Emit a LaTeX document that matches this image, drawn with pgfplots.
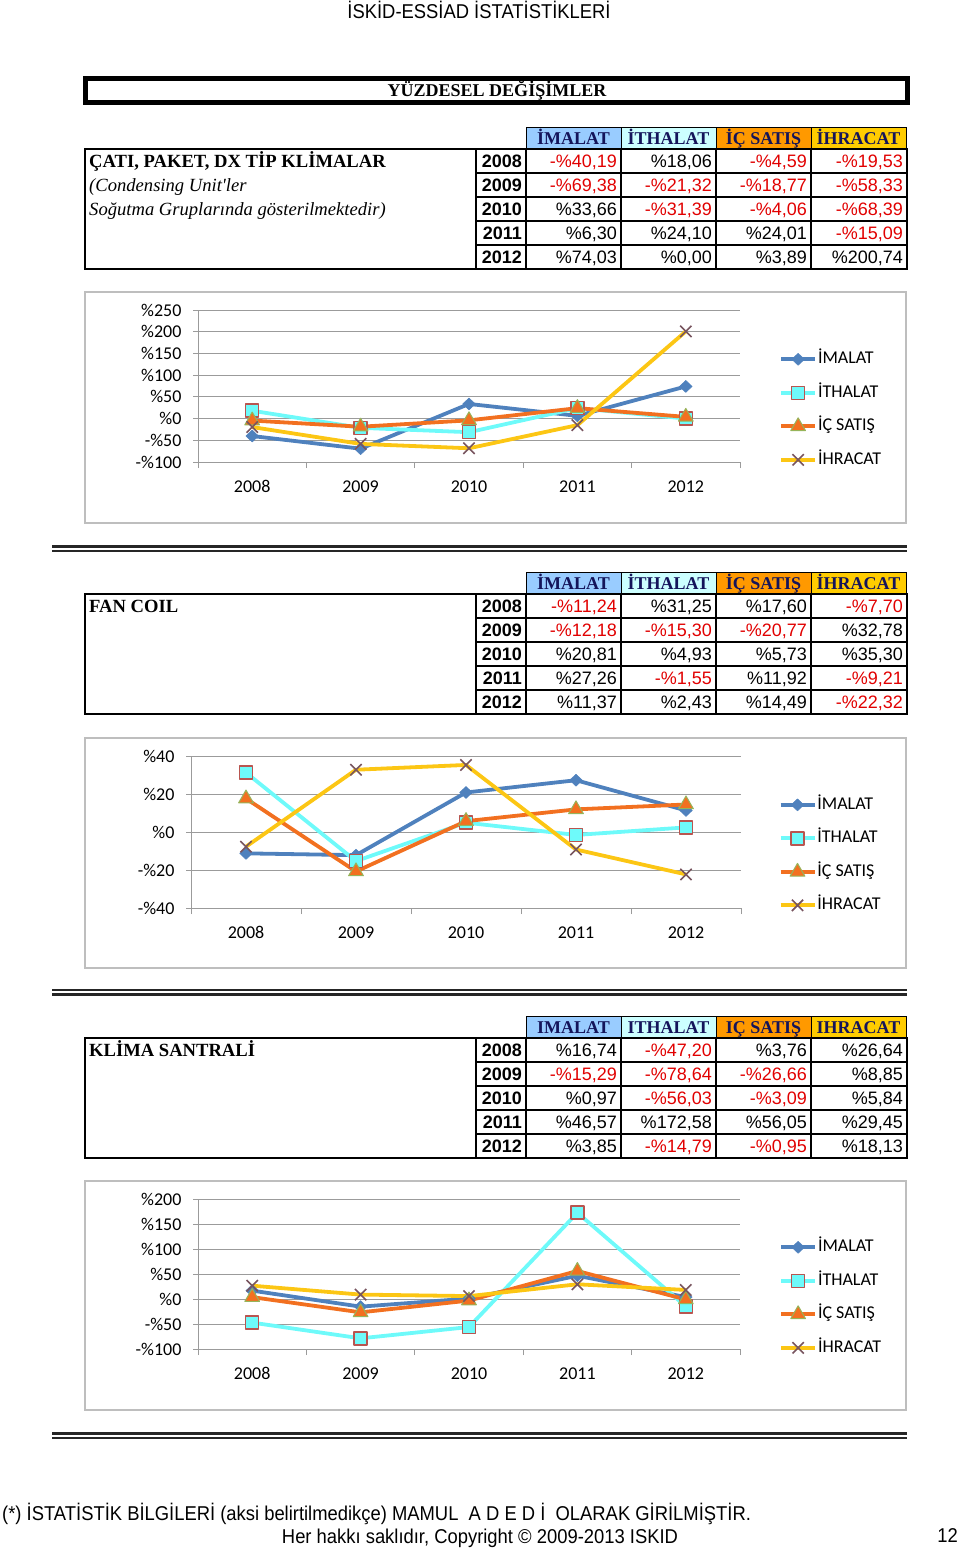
\documentclass[border=0pt]{standalone}
\usepackage{pgfplots}
\pgfplotsset{compat=1.18}
\usepackage{fontspec}
\setmainfont{Liberation Serif}
\newfontfamily\arial{Liberation Sans}
\newfontfamily\narrow[FakeStretch=0.92]{Liberation Sans}
\newfontfamily\calibri{Carlito}
\definecolor{cimalat}{RGB}{79,129,189}
\definecolor{cithalat}{RGB}{110,250,250}
\definecolor{cicsatis}{RGB}{242,112,32}
\definecolor{cihracat}{RGB}{252,198,20}
\definecolor{sqedge}{RGB}{185,85,80}
\definecolor{triedge}{RGB}{150,180,90}
\definecolor{xmark}{RGB}{120,85,95}
\definecolor{hblue}{RGB}{153,204,255}
\definecolor{hcyan}{RGB}{204,255,255}
\definecolor{horange}{RGB}{255,153,0}
\definecolor{hgold}{RGB}{255,204,0}
\definecolor{hnavy}{RGB}{20,20,90}
\definecolor{negred}{RGB}{225,0,0}
\definecolor{gridc}{RGB}{155,155,155}
\definecolor{framec}{RGB}{190,190,190}

\def\pc#1{\pcA#1\end}
\def\pcA#1#2\end{\ifx-#1\textcolor{negred}{-\%#2}\else\%#1#2\fi}

\newcommand\tgrid[1]{%
 \fill[hblue] (526,#1) rectangle (621,#1+22);
 \fill[hcyan] (621,#1) rectangle (716,#1+22);
 \fill[horange] (716,#1) rectangle (811,#1+22);
 \fill[hgold] (811,#1) rectangle (906,#1+22);
 \draw[line width=1pt] (526,#1+22) -- (526,#1) -- (906,#1) -- (906,#1+22);
 \foreach \xx in {621,716,811} \draw[line width=1pt] (\xx,#1) -- (\xx,#1+22);
 \foreach \xx in {476,526,621,716,811} \draw[line width=2pt] (\xx,#1+22) -- (\xx,#1+142);
 \foreach \k in {1,2,3,4} \draw[line width=2pt] (476,#1+22+24*\k) -- (907,#1+22+24*\k);
 \draw[line width=2.4pt] (85,#1+22) rectangle (907,#1+142);
}
\newcommand\thead[5]{%
 \foreach \xc/\lab in {573.5/#2,668.5/#3,763.5/#4,858.5/#5}
  \node[anchor=base, inner sep=0, text=hnavy, font=\bfseries\fontsize{18}{20}\selectfont] at (\xc,#1+17.5) {\lab};
}
\newcommand\trow[7]{%
 \pgfmathsetmacro\by{#1+40.5+24*#2}
 \node[anchor=base east, inner sep=0, font=\arial\bfseries\fontsize{18}{20}\selectfont] at (522,\by) {#3};
 \node[anchor=base east, inner sep=0, font=\arial\fontsize{18}{20}\selectfont] at (617,\by) {\pc{#4}};
 \node[anchor=base east, inner sep=0, font=\arial\fontsize{18}{20}\selectfont] at (712,\by) {\pc{#5}};
 \node[anchor=base east, inner sep=0, font=\arial\fontsize{18}{20}\selectfont] at (807,\by) {\pc{#6}};
 \node[anchor=base east, inner sep=0, font=\arial\fontsize{18}{20}\selectfont] at (903,\by) {\pc{#7}};
}
\newcommand\dline[1]{%
 \draw[line width=2.2pt, black!85] (52,#1) -- (907,#1);
 \draw[line width=2.2pt, black!85] (52,#1+4.5) -- (907,#1+4.5);
}

\pgfplotsset{
 chart/.style={
  scale only axis,
  xmin=-0.5, xmax=4.5,
  axis x line=bottom, axis y line=left,
  axis line style={-, draw=gridc, line width=1pt},
  ymajorgrids, major grid style={draw=gridc, line width=1pt},
  xtick={0,1,2,3,4}, xticklabels={2008,2009,2010,2011,2012},
  minor xtick={-0.5,0.5,1.5,2.5,3.5,4.5},
  major x tick style={draw=none},
  minor x tick style={draw=gridc, line width=1pt},
  ytick style={draw=gridc, line width=1pt},
  tick align=outside,
  major tick length=5pt, minor tick length=6pt,
  tick label style={font=\calibri\fontsize{18}{20}\selectfont, text=black},
  xticklabel style={yshift=-10pt},
  yticklabel style={xshift=-8pt},
  clip=false,
  legend style={draw=none, fill=none, anchor=west, inner sep=0pt,
    font=\calibri\fontsize{18}{20}\selectfont, row sep=16.5pt,
    nodes={inner sep=1pt, text height=12pt, text depth=3pt}},
  legend cell align=left,
  legend image code/.code={\draw[mark repeat=2, mark phase=2, ##1] plot coordinates {(0pt,0pt) (17pt,0pt) (34pt,0pt)};},
 },
 simalat/.style={color=cimalat, line width=3.8pt, line join=round, mark=diamond*, mark size=6pt, mark options={solid, xscale=1.4, fill=cimalat, draw=cimalat, line width=0.5pt}},
 sithalat/.style={color=cithalat, line width=3.8pt, line join=round, mark=square*, mark size=6.5pt, mark options={solid, fill=cithalat, draw=sqedge, line width=1.5pt}},
 sicsatis/.style={color=cicsatis, line width=3.8pt, line join=round, mark=triangle*, mark size=8.5pt, mark options={solid, fill=cicsatis, draw=triedge, line width=1pt}},
 sihracat/.style={color=cihracat, line width=3.8pt, line join=round, mark=x, mark size=8pt, mark options={solid, draw=xmark, line width=1.6pt}},
}

\begin{document}
\begin{tikzpicture}
\path[use as bounding box] (0pt,0pt) rectangle (960pt,-1550pt);
\begin{scope}[x=1pt,y=-1pt]
 \node[anchor=base, inner sep=0, font=\narrow\fontsize{20}{22}\selectfont] at (479,18) {İSKİD-ESSİAD İSTATİSTİKLERİ};
 \draw[line width=5pt] (85.5,78.5) rectangle (907.5,102.5);
 \node[anchor=base, inner sep=0, font=\bfseries\fontsize{18}{20}\selectfont] at (497,96) {YÜZDESEL DEĞİŞİMLER};
 % Table 1
 \tgrid{127}
 \thead{127}{İMALAT}{İTHALAT}{İÇ SATIŞ}{İHRACAT}
 \trow{127}{0}{2008}{-40,19}{18,06}{-4,59}{-19,53}
 \trow{127}{1}{2009}{-69,38}{-21,32}{-18,77}{-58,33}
 \trow{127}{2}{2010}{33,66}{-31,39}{-4,06}{-68,39}
 \trow{127}{3}{2011}{6,30}{24,10}{24,01}{-15,09}
 \trow{127}{4}{2012}{74,03}{0,00}{3,89}{200,74}
 \node[anchor=base west, inner sep=0, font=\bfseries\fontsize{18.6}{20}\selectfont] at (89,167.5) {ÇATI, PAKET, DX TİP KLİMALAR};
 \node[anchor=base west, inner sep=0, font=\itshape\fontsize{18.6}{20}\selectfont] at (89,191.5) {(Condensing Unit\textquotesingle ler};
 \node[anchor=base west, inner sep=0, font=\itshape\fontsize{18.6}{20}\selectfont] at (89,215.5) {Soğutma Gruplarında gösterilmektedir)};
 \draw[framec, line width=1.5pt] (85,292) rectangle (906,523);
 \dline{546.5}
 % Table 2
 \tgrid{572}
 \thead{572}{İMALAT}{İTHALAT}{İÇ SATIŞ}{İHRACAT}
 \trow{572}{0}{2008}{-11,24}{31,25}{17,60}{-7,70}
 \trow{572}{1}{2009}{-12,18}{-15,30}{-20,77}{32,78}
 \trow{572}{2}{2010}{20,81}{4,93}{5,73}{35,30}
 \trow{572}{3}{2011}{27,26}{-1,55}{11,92}{-9,21}
 \trow{572}{4}{2012}{11,37}{2,43}{14,49}{-22,32}
 \node[anchor=base west, inner sep=0, font=\bfseries\fontsize{18.6}{20}\selectfont] at (89,612.5) {FAN COIL};
 \draw[framec, line width=1.5pt] (85,738) rectangle (906,968);
 \dline{990}
 % Table 3
 \tgrid{1016}
 \thead{1016}{IMALAT}{ITHALAT}{IÇ SATIŞ}{IHRACAT}
 \trow{1016}{0}{2008}{16,74}{-47,20}{3,76}{26,64}
 \trow{1016}{1}{2009}{-15,29}{-78,64}{-26,66}{8,85}
 \trow{1016}{2}{2010}{0,97}{-56,03}{-3,09}{5,84}
 \trow{1016}{3}{2011}{46,57}{172,58}{56,05}{29,45}
 \trow{1016}{4}{2012}{3,85}{-14,79}{-0,95}{18,13}
 \node[anchor=base west, inner sep=0, font=\bfseries\fontsize{18.6}{20}\selectfont] at (89,1056.5) {KLİMA SANTRALİ};
 \draw[framec, line width=1.5pt] (85,1181) rectangle (906,1410);
 \dline{1433.5}
 % footer
 \node[anchor=base west, inner sep=0, font=\narrow\fontsize{20}{22}\selectfont] at (2,1520) {(*) İSTATİSTİK BİLGİLERİ (aksi belirtilmedikçe) MAMUL\ \ A D E D İ\ \ OLARAK GİRİLMİŞTİR.};
 \node[anchor=base, inner sep=0, font=\narrow\fontsize{20}{22}\selectfont] at (480,1543) {Her hakkı saklıdır, Copyright © 2009-2013 ISKID};
 \node[anchor=base east, inner sep=0, font=\narrow\fontsize{20}{22}\selectfont] at (958,1542) {12};
\end{scope}

% Chart 1
\begin{axis}[chart, at={(198pt,-462pt)}, anchor=south west, width=542pt, height=152pt,
  ymin=-100, ymax=250, ytick={-100,-50,0,50,100,150,200,250},
  yticklabels={-\%100,-\%50,\%0,\%50,\%100,\%150,\%200,\%250},
  legend style={at={(axis description cs:1.072,0.345)}}]
\addplot[simalat] coordinates {(0,-40.19) (1,-69.38) (2,33.66) (3,6.30) (4,74.03)};
\addlegendentry{İMALAT}
\addplot[sithalat] coordinates {(0,18.06) (1,-21.32) (2,-31.39) (3,24.10) (4,0.00)};
\addlegendentry{İTHALAT}
\addplot[sicsatis] coordinates {(0,-4.59) (1,-18.77) (2,-4.06) (3,24.01) (4,3.89)};
\addlegendentry{İÇ SATIŞ}
\addplot[sihracat] coordinates {(0,-19.53) (1,-58.33) (2,-68.39) (3,-15.09) (4,200.74)};
\addlegendentry{İHRACAT}
\end{axis}

% Chart 2
\begin{axis}[chart, at={(191pt,-908pt)}, anchor=south west, width=550pt, height=152pt,
  ymin=-40, ymax=40, ytick={-40,-20,0,20,40},
  yticklabels={-\%40,-\%20,\%0,\%20,\%40},
  legend style={at={(axis description cs:1.068,0.348)}}]
\addplot[simalat] coordinates {(0,-11.24) (1,-12.18) (2,20.81) (3,27.26) (4,11.37)};
\addlegendentry{İMALAT}
\addplot[sithalat] coordinates {(0,31.25) (1,-15.30) (2,4.93) (3,-1.55) (4,2.43)};
\addlegendentry{İTHALAT}
\addplot[sicsatis] coordinates {(0,17.60) (1,-20.77) (2,5.73) (3,11.92) (4,14.49)};
\addlegendentry{İÇ SATIŞ}
\addplot[sihracat] coordinates {(0,-7.70) (1,32.78) (2,35.30) (3,-9.21) (4,-22.32)};
\addlegendentry{İHRACAT}
\end{axis}

% Chart 3
\begin{axis}[chart, at={(198pt,-1349pt)}, anchor=south west, width=542pt, height=150pt,
  ymin=-100, ymax=200, ytick={-100,-50,0,50,100,150,200},
  yticklabels={-\%100,-\%50,\%0,\%50,\%100,\%150,\%200},
  legend style={at={(axis description cs:1.072,0.343)}}]
\addplot[simalat] coordinates {(0,16.74) (1,-15.29) (2,0.97) (3,46.57) (4,3.85)};
\addlegendentry{İMALAT}
\addplot[sithalat] coordinates {(0,-47.20) (1,-78.64) (2,-56.03) (3,172.58) (4,-14.79)};
\addlegendentry{İTHALAT}
\addplot[sicsatis] coordinates {(0,3.76) (1,-26.66) (2,-3.09) (3,56.05) (4,-0.95)};
\addlegendentry{İÇ SATIŞ}
\addplot[sihracat] coordinates {(0,26.64) (1,8.85) (2,5.84) (3,29.45) (4,18.13)};
\addlegendentry{İHRACAT}
\end{axis}
\end{tikzpicture}
\end{document}
